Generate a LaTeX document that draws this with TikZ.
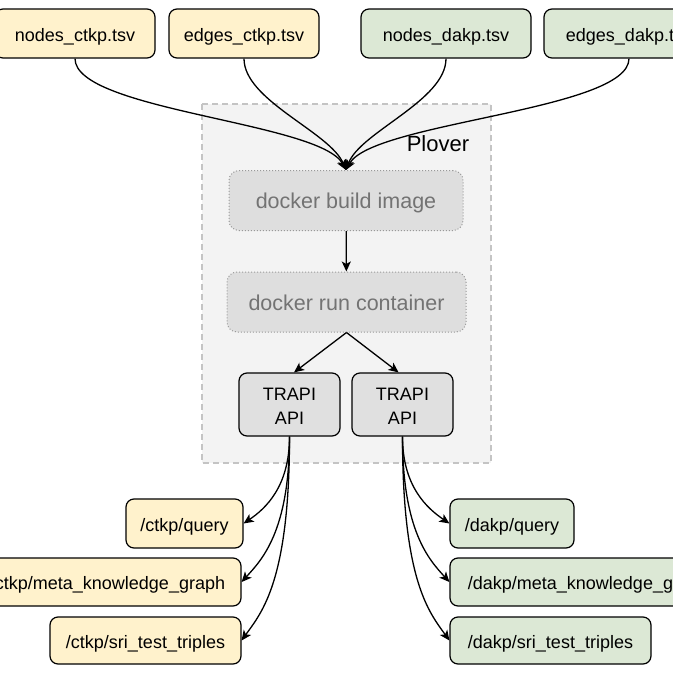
\documentclass[tikz,border=0pt]{standalone}
\usepackage{fontspec}
\setmainfont{Liberation Sans}
\usetikzlibrary{positioning,calc,arrows.meta}
\definecolor{ctkpfill}{HTML}{FFF2CC}
\definecolor{dakpfill}{HTML}{DCE8D5}
\definecolor{apifill}{HTML}{E0E0E0}
\definecolor{dockfill}{HTML}{DEDEDE}
\definecolor{ploverfill}{HTML}{F3F3F3}
\definecolor{ploverline}{HTML}{C4C4C4}
\tikzset{>={Stealth[length=10pt,width=9pt,inset=2.5pt]},
  box/.style={draw,rounded corners=8pt,line width=1.2pt,minimum height=49pt,
    inner sep=0pt,text height=17pt,text depth=2pt,font=\fontsize{18}{24}\selectfont},
  ctkp/.style={box,fill=ctkpfill},
  dakp/.style={box,fill=dakpfill},
  api/.style={box,fill=apifill,minimum width=101pt,minimum height=63pt,align=center,
    text height=39pt,text depth=0pt},
  dock/.style={draw=black!40,dotted,line width=1pt,fill=dockfill,rounded corners=10pt,
    minimum height=60pt,inner sep=0pt,text height=18.5pt,text depth=2.5pt,
    text=black!55,font=\fontsize{21.5}{26}\selectfont},
  link/.style={line width=1.3pt,->}}

\begin{document}
\begin{tikzpicture}[x=1pt,y=-1pt]
\path[use as bounding box,clip] (0,0) rectangle (673,673);

% Plover frame
\draw[ploverline,fill=ploverfill,line width=1.2pt,dash pattern=on 6pt off 4pt]
  (202,104) rectangle (491,463);
\node (plover) at (438,144) {\fontsize{22}{26}\selectfont Plover};

% Input files
\node[ctkp,minimum width=160pt] (nodesC) at (75,33.5) {nodes\_ctkp.tsv};
\node[ctkp,minimum width=150pt] (edgesC) at (244,33.5) {edges\_ctkp.tsv};
\node[dakp,minimum width=170pt] (nodesD) at (446,33.5) {nodes\_dakp.tsv};
\node[dakp,minimum width=170pt] (edgesD) at (629,33.5) {edges\_dakp.tsv};

% Docker steps
\node[dock,minimum width=234pt] (build) at (346,200.5) {docker build image};
\node[dock,minimum width=239pt] (run) at (346.5,302) {docker run container};
\coordinate (merge) at (build.north);

% APIs
\node[api] (apiL) at (289.5,404.5) {TRAPI\\API};
\node[api] (apiR) at (402.5,404.5) {TRAPI\\API};

% Endpoints
\node[ctkp,minimum width=117pt] (queryC) at (184.5,523.5) {/ctkp/query};
\node[ctkp,minimum width=267pt,minimum height=48pt] (metaC) at (107.5,582) {/ctkp/meta\_knowledge\_graph};
\node[ctkp,minimum width=191pt,minimum height=47pt] (sriC) at (145.5,640.5) {/ctkp/sri\_test\_triples};
\node[dakp,minimum width=124pt] (queryD) at (512,523.5) {/dakp/query};
\node[dakp,minimum width=277pt,minimum height=48pt] (metaD) at (588.5,582) {/dakp/meta\_knowledge\_graph};
\node[dakp,minimum width=201pt,minimum height=47pt] (sriD) at (550.5,640.5) {/dakp/sri\_test\_triples};

% Files into the build
\draw[link] (nodesC.south) .. controls +(0,52) and +(-26,-48) .. (merge);
\draw[link] (edgesC.south) .. controls +(0,42) and +(-16,-38) .. (merge);
\draw[link] (nodesD.south) .. controls +(0,42) and +(14,-38) .. (merge);
\draw[link] (edgesD.south) .. controls +(0,52) and +(26,-48) .. (merge);

% Build, run, serve
\draw[link] (build) -- (run);
\draw[link] (run.south) -- (apiL.82);
\draw[link] (run.south) -- (apiR.97);

% Endpoints of each API
\draw[link] (apiL.south) .. controls +(0,50) and +(22,-15) .. (queryC.east);
\draw[link] (apiL.south) .. controls +(0,95) and +(20,-22) .. (metaC.east);
\draw[link] (apiL.south) .. controls +(0,145) and +(20,-28) .. (sriC.east);
\draw[link] (apiR.south) .. controls +(0,50) and +(-22,-15) .. (queryD.west);
\draw[link] (apiR.south) .. controls +(0,95) and +(-20,-22) .. (metaD.west);
\draw[link] (apiR.south) .. controls +(0,145) and +(-20,-28) .. (sriD.west);
\end{tikzpicture}
\end{document}
